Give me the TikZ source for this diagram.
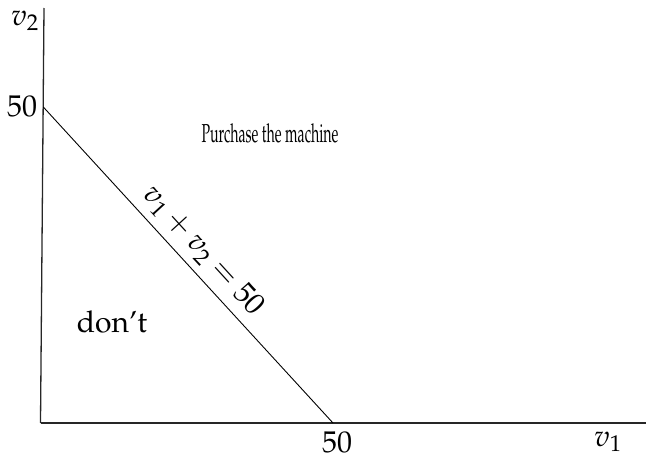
\documentclass[tikz,border=0pt]{standalone}
\usepackage[T1]{fontenc}
\usepackage{mathpazo}
\usepackage{tikz}
\usetikzlibrary{positioning, calc}

\begin{document}
\begin{tikzpicture}[
  x=1pt, y=-1pt,
  axis/.style={line width=1.3pt, black!85},
  budget/.style={line width=0.9pt, black},
  lbl/.style={font=\fontsize{30}{36}\selectfont, inner sep=0pt},
  region/.style={font=\fontsize{26}{30}\selectfont, inner sep=0pt, xscale=0.545},
]
  \useasboundingbox (0,0) rectangle (646,458);

  % axes
  \coordinate (O)    at (40.5,423);
  \coordinate (ytop) at (44,8);
  \coordinate (xend) at (646,423);
  \coordinate (A)    at (43.3,107);
  \coordinate (B)    at (333,423);

  \draw[axis] (O) -- (ytop);
  \draw[axis] (O) -- (xend);

  % indifference line
  \draw[budget] (A) -- (B);

  \node[lbl] (v2)   at (25,21)   {$v_2$};
  \node[lbl] (y50)  at (22,106)  {50};
  \node[lbl] (x50)  at (337,442) {50};
  \node[lbl] (v1)   at (608,442) {$v_1$};
  \node[lbl, rotate=-47.6] (eq) at (203,251) {$v_1+v_2=50$};
  \node[lbl] (dont) at (112,322) {don't};
  \node[region] (buy) at (270,133) {Purchase the machine};
\end{tikzpicture}
\end{document}
